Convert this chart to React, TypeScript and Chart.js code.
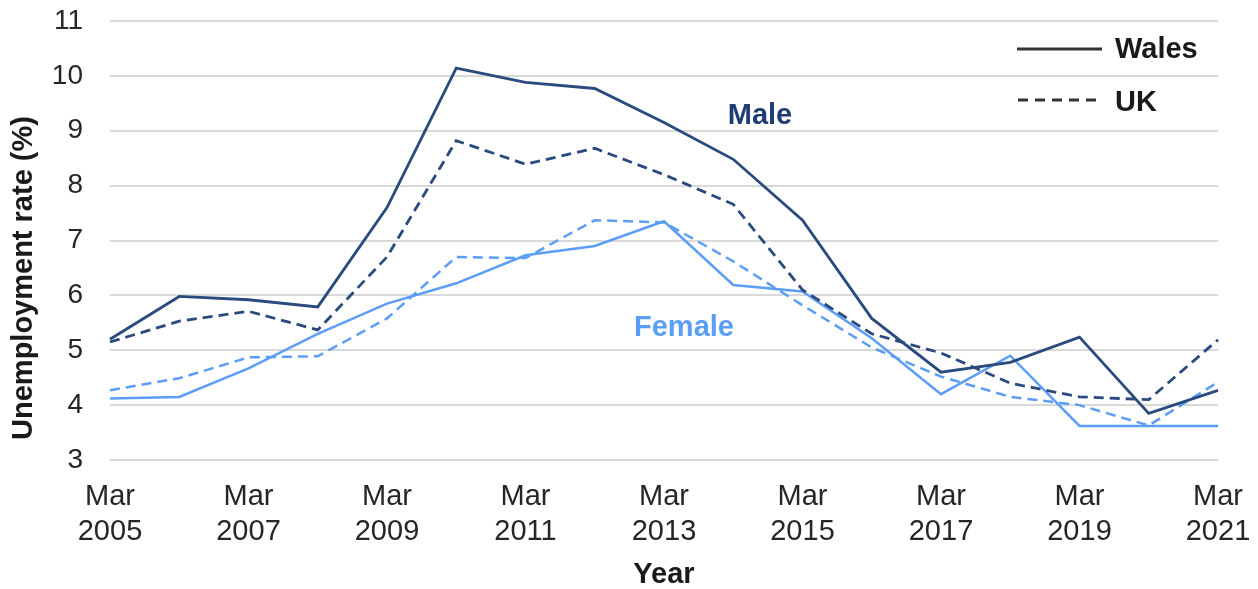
import React, { useEffect, useRef } from "react";
import { Chart, registerables } from "chart.js";

Chart.register(...registerables);

const years = [2005, 2006, 2007, 2008, 2009, 2010, 2011, 2012, 2013, 2014, 2015, 2016, 2017, 2018, 2019, 2020, 2021];
const categories = years.map((y) => "Mar " + y);

const walesMale = [5.2, 5.98, 5.92, 5.79, 7.6, 10.14, 9.88, 9.77, 9.15, 8.48, 7.37, 5.58, 4.6, 4.78, 5.24, 3.85, 4.27];
const ukMale = [5.15, 5.53, 5.71, 5.37, 6.7, 8.82, 8.39, 8.68, 8.2, 7.66, 6.1, 5.3, 4.95, 4.4, 4.15, 4.1, 5.19];
const walesFemale = [4.12, 4.15, 4.67, 5.3, 5.85, 6.22, 6.73, 6.9, 7.35, 6.19, 6.07, 5.22, 4.2, 4.9, 3.62, 3.62, 3.62];
const ukFemale = [4.27, 4.49, 4.87, 4.89, 5.58, 6.7, 6.68, 7.37, 7.33, 6.62, 5.82, 5.05, 4.52, 4.15, 4.0, 3.63, 4.42];

const yTicks = [3, 4, 5, 6, 7, 8, 9, 10, 11];

const DARK = "#2b4a7e";
const LIGHT = "#5c9ef6";
const FONT = "'Liberation Sans', Arial, sans-serif";

const overlayPlugin = {
  id: "overlay",
  afterDraw(chart: any) {
    const ctx = chart.ctx;
    const area = chart.chartArea;
    ctx.save();
    ctx.fillStyle = "#1a1a1a";
    ctx.font = `bold 29px ${FONT}`;
    ctx.textAlign = "center";
    ctx.textBaseline = "middle";
    ctx.translate(24, 278);
    ctx.rotate(-Math.PI / 2);
    ctx.fillText("Unemployment rate (%)", 0, 0);
    ctx.restore();

    ctx.save();
    ctx.fillStyle = "#1a1a1a";
    ctx.font = `bold 29px ${FONT}`;
    ctx.textAlign = "center";
    ctx.textBaseline = "middle";
    ctx.fillText("Year", (area.left + area.right) / 2, 575);

    // Legend
    ctx.strokeStyle = "#333333";
    ctx.lineWidth = 3;
    ctx.beginPath();
    ctx.moveTo(1017, 49);
    ctx.lineTo(1102, 49);
    ctx.stroke();
    ctx.setLineDash([10, 7]);
    ctx.beginPath();
    ctx.moveTo(1018, 100);
    ctx.lineTo(1102, 100);
    ctx.stroke();
    ctx.setLineDash([]);
    ctx.textAlign = "left";
    ctx.fillText("Wales", 1115, 50);
    ctx.fillText("UK", 1115, 103);

    // Series annotations
    ctx.textAlign = "center";
    ctx.fillStyle = "#1f3c73";
    ctx.fillText("Male", 760, 116);
    ctx.fillStyle = LIGHT;
    ctx.fillText("Female", 684, 328);
    ctx.restore();
  },
};

export default function App() {
  const ref = useRef<HTMLCanvasElement | null>(null);

  useEffect(() => {
    document.body.style.margin = "0";
    if (!ref.current) return;
    const chart = new Chart(ref.current, {
      type: "line",
      data: {
        labels: categories,
        datasets: [
          { label: "Wales male", data: walesMale, borderColor: DARK, borderWidth: 2.8, pointRadius: 0, tension: 0 },
          { label: "UK male", data: ukMale, borderColor: DARK, borderWidth: 2.8, borderDash: [10, 6], pointRadius: 0, tension: 0 },
          { label: "Wales female", data: walesFemale, borderColor: LIGHT, borderWidth: 2.5, pointRadius: 0, tension: 0 },
          { label: "UK female", data: ukFemale, borderColor: LIGHT, borderWidth: 2.5, borderDash: [10, 6], pointRadius: 0, tension: 0 },
        ],
      },
      options: {
        animation: false,
        responsive: true,
        maintainAspectRatio: false,
        layout: { padding: { top: 21, right: 40, left: 0, bottom: 0 } },
        plugins: { legend: { display: false }, tooltip: { enabled: false } },
        scales: {
          x: {
            type: "category",
            offset: false,
            grid: { display: false, drawTicks: false },
            border: { display: false },
            ticks: {
              autoSkip: false,
              maxRotation: 0,
              minRotation: 0,
              padding: 20,
              color: "#262626",
              font: { size: 29, family: FONT },
              callback: (_v: any, i: number) => (i % 2 === 0 ? ["Mar", String(years[i])] : ""),
            },
            afterFit: (s: any) => {
              s.height = 129;
              s.paddingLeft = 0;
              s.paddingRight = 0;
            },
          },
          y: {
            min: yTicks[0],
            max: yTicks[yTicks.length - 1],
            afterBuildTicks: (s: any) => {
              s.ticks = yTicks.map((v) => ({ value: v }));
            },
            grid: { color: "#d9d9d9", lineWidth: 2, drawTicks: false },
            border: { display: false },
            ticks: {
              padding: 27,
              color: "#262626",
              font: { size: 28, family: FONT },
            },
            afterFit: (s: any) => {
              s.width = 110;
              s.paddingTop = 0;
              s.paddingBottom = 0;
            },
          },
        },
      },
      plugins: [overlayPlugin],
    });
    return () => chart.destroy();
  }, []);

  return (
    <div style={{ width: 1258, height: 589, position: "relative" }}>
      <canvas ref={ref} />
    </div>
  );
}
